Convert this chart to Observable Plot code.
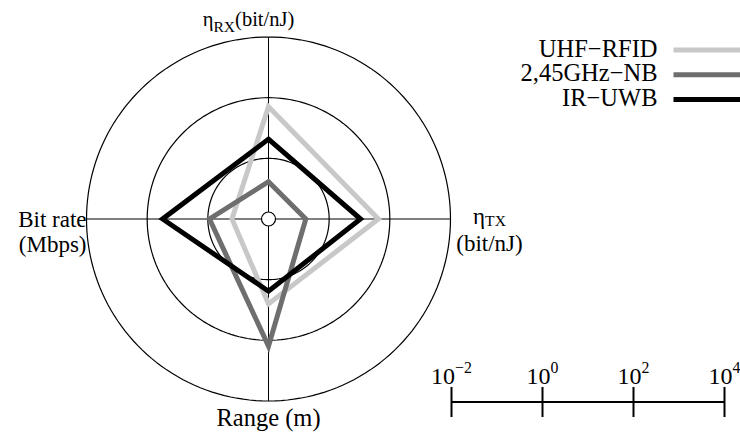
<!DOCTYPE html>
<html><head><meta charset="utf-8">
<script src="https://cdn.jsdelivr.net/npm/d3@7"></script>
<script src="https://cdn.jsdelivr.net/npm/@observablehq/plot@0.6"></script>
<style>
html,body{margin:0;padding:0;background:#fff;}
#chart{position:relative;width:740px;height:432px;overflow:hidden;background:#fff;}
#chart svg{position:absolute;left:0;top:0;}
</style></head><body><div id="chart"></div>
<script>
// ---- data ----
const axisLabelLines = [["η_{RX}(bit/nJ)"], ["η_{TX}", "(bit/nJ)"], ["Range (m)"], ["Bit rate", "(Mbps)"]];
const seriesNames = ["UHF−RFID", "2,45GHz−NB", "IR−UWB"];
const uhfRfid = [50, 42, 6.3, 0.16];   // ηRX, ηTX, range, bit rate
const nb245   = [0.17, 0.17, 155, 0.88];
const irUwb   = [4.3, 10.8, 2.4, 31];
const radarMin = 0.01;                  // value at the centre
const ringValues = [1, 100, 10000];
const scaleTicks = [0.01, 1, 100, 10000];
const scaleTickLabels = ["10^{−2}", "10^{0}", "10^{2}", "10^{4}"];

// ---- layout ----
const W = 740, H = 432, CX = 268, CY = 218.5, K = 30.33; // px per decade
const px2x = px => (px - CX) / K;
const py2y = py => (CY - py) / K;
const seriesColors = ["#c8c8c8", "#6e6e6e", "#000000"];
const dec = v => Math.log10(v) - Math.log10(radarMin);
const angle = i => Math.PI / 2 - i * Math.PI / 2;
const subShifts = {"RX": 0.32, "TX": 0.11};
const subScale = {"RX": 0.76, "TX": 0.68};

const seriesValues = [uhfRfid, nb245, irUwb];
const polyData = seriesNames.flatMap((s, si) => seriesValues[si].map((v, i) => ({
  series: s, x: dec(v) * Math.cos(angle(i)), y: dec(v) * Math.sin(angle(i))
})));
const ringPts = ringValues.flatMap(rv => d3.range(0, 360, 2).map(deg => ({
  ring: rv, x: dec(rv) * Math.cos(deg * Math.PI / 180), y: dec(rv) * Math.sin(deg * Math.PI / 180)
})));
const rOuter = dec(ringValues[ringValues.length - 1]);
const axisIdx = axisLabelLines.map((_, i) => i);

const labelLayout = [
  {anchor: "middle", x: 248, y: [25], fs: 20.5},
  {anchor: "middle", x: 489, y: [223, 250], fs: 23},
  {anchor: "middle", x: 268, y: [425], fs: 24.5},
  {anchor: "end", x: 86, y: [226, 251.5], fs: 23}
];
const labelRows = axisLabelLines.flatMap((lines, i) => {
  const L = labelLayout[i];
  return lines.map((t, j) => ({text: t, anchor: L.anchor, x: px2x(L.x), y: py2y(L.y[j]), fs: L.fs}));
});
const legY = i => 49.5 + i * 24.8;

const font = "'Liberation Serif', 'Times New Roman', serif";

const radar = Plot.plot({
  width: W, height: H, margin: 0,
  style: {fontFamily: font, background: "transparent", color: "black"},
  x: {domain: [px2x(0), px2x(W)], axis: null},
  y: {domain: [py2y(H), py2y(0)], axis: null},
  color: {domain: seriesNames, range: seriesColors},
  marks: [
    Plot.line(ringPts, {x: "x", y: "y", z: "ring", curve: "linear-closed", stroke: "black", strokeWidth: 1.2}),
    Plot.link(axisIdx, {x1: () => 0, y1: () => 0, x2: i => rOuter * Math.cos(angle(i)), y2: i => rOuter * Math.sin(angle(i)), stroke: "black", strokeWidth: 1}),
    Plot.line(polyData, {x: "x", y: "y", z: "series", stroke: "series", curve: "linear-closed", strokeWidth: 5, strokeLinejoin: "miter", strokeMiterlimit: 10}),
    Plot.dot([0], {x: () => 0, y: () => 0, r: 7, fill: "white", stroke: "black", strokeWidth: 1.2}),
    Plot.text(labelRows.filter(d => d.anchor === "middle"), {x: "x", y: "y", text: "text", fontSize: "fs", textAnchor: "middle", lineAnchor: "bottom", fill: "black"}),
    Plot.text(labelRows.filter(d => d.anchor === "end"), {x: "x", y: "y", text: "text", fontSize: "fs", textAnchor: "end", lineAnchor: "bottom", fill: "black"}),
    Plot.text(seriesNames, {x: () => px2x(657), y: (d, i) => py2y(legY(i) + 6.5), text: d => d, fontSize: 24.5, textAnchor: "end", lineAnchor: "bottom", fill: "black"}),
    Plot.link(seriesNames, {x1: () => px2x(673), x2: () => px2x(742), y1: (d, i) => py2y(legY(i)), y2: (d, i) => py2y(legY(i)), stroke: d => d, strokeWidth: 5})
  ]
});

const scaleBar = Plot.plot({
  width: W, height: H, margin: 0,
  style: {fontFamily: font, background: "transparent", color: "black"},
  x: {type: "log", domain: [scaleTicks[0], scaleTicks[scaleTicks.length - 1]], range: [451, 724], axis: null},
  y: {domain: [0, H], range: [0, H], axis: null},
  marks: [
    Plot.ruleY([401.5], {x1: scaleTicks[0], x2: scaleTicks[scaleTicks.length - 1], stroke: "black", strokeWidth: 2}),
    Plot.ruleX(scaleTicks, {x: d => d, y1: 387, y2: 417, stroke: "black", strokeWidth: 2}),
    Plot.text(scaleTicks, {x: d => d, y: 383, text: (d, i) => scaleTickLabels[i], fontSize: 24, textAnchor: "middle", lineAnchor: "bottom", fill: "black"})
  ]
});

function richify(svg) {
  svg.querySelectorAll("text").forEach(el => {
    const s = el.textContent;
    if (!/[_^]\{/.test(s)) return;
    const fsHost = el.closest("[font-size]");
    const fs = parseFloat(fsHost ? fsHost.getAttribute("font-size") : 20);
    el.textContent = "";
    const re = /([_^])\{([^}]*)\}/g;
    let last = 0, off = 0, m;
    const add = (txt, size, dy) => {
      const t = document.createElementNS("http://www.w3.org/2000/svg", "tspan");
      if (size) t.setAttribute("font-size", size);
      if (dy) t.setAttribute("dy", dy);
      t.textContent = txt;
      el.appendChild(t);
    };
    while ((m = re.exec(s))) {
      if (m.index > last) { add(s.slice(last, m.index), null, -off); off = 0; }
      const isSub = m[1] === "_";
      const shift = isSub ? (subShifts[m[2]] ?? 0.25) * fs : -0.45 * fs;
      add(m[2], (isSub ? (subScale[m[2]] ?? 0.68) : 0.66) * fs, shift - off);
      off = shift;
      last = re.lastIndex;
    }
    if (last < s.length) add(s.slice(last), null, -off);
  });
}
richify(radar);
richify(scaleBar);
const host = document.getElementById("chart");
host.appendChild(radar);
host.appendChild(scaleBar);
</script></body></html>
